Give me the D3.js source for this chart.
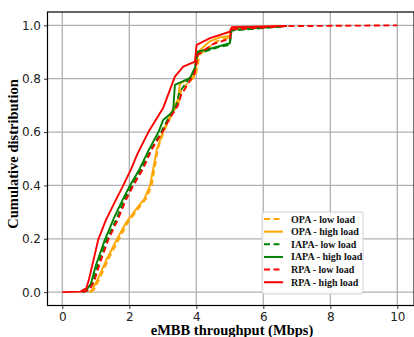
<!DOCTYPE html>
<html>
<head>
<meta charset="utf-8">
<script src="https://cdn.jsdelivr.net/npm/d3@7"></script>
<style>
  body { margin: 0; background: #fff; }
  svg { display: block; }
</style>
</head>
<body>
<div id="chart"></div>
<script>
const xTicks = [0, 2, 4, 6, 8, 10];
const yTicks = [0, 0.2, 0.4, 0.6, 0.8, 1.0];

// OPA - low load
const opaLowX = [0.85, 0.95, 1.15, 1.4, 1.68, 1.95, 2.25, 2.5, 2.67, 2.85, 3.02, 3.25, 3.5, 3.55, 3.98, 4.1, 4.3, 4.6, 5.0, 5.05, 6.7];
const opaLowY = [0, 0.01, 0.06, 0.13, 0.196, 0.26, 0.31, 0.35, 0.4, 0.535, 0.6, 0.66, 0.72, 0.76, 0.81, 0.89, 0.91, 0.94, 0.955, 0.99, 0.998];
// OPA - high load
const opaHighX = [0.8, 0.9, 1.1, 1.35, 1.62, 1.9, 2.2, 2.45, 2.62, 2.82, 3.0, 3.2, 3.45, 3.51, 3.96, 4.05, 4.4, 4.7, 5.0, 5.05, 6.7];
const opaHighY = [0, 0.01, 0.06, 0.13, 0.196, 0.26, 0.31, 0.35, 0.4, 0.535, 0.6, 0.66, 0.72, 0.78, 0.814, 0.9, 0.94, 0.955, 0.96, 0.99, 0.998];
// IAPA- low load
const iapaLowX = [0.6, 0.75, 0.9, 1.05, 1.32, 1.6, 1.85, 2.07, 2.35, 2.65, 2.95, 3.2, 3.4, 3.5, 3.9, 4.06, 4.71, 5.0, 5.05, 6.7];
const iapaLowY = [0, 0.005, 0.03, 0.1, 0.196, 0.27, 0.346, 0.4, 0.46, 0.535, 0.6, 0.66, 0.7, 0.75, 0.82, 0.895, 0.92, 0.927, 0.98, 0.997];
// IAPA - high load
const iapaHighX = [0.6, 0.7, 0.85, 1.0, 1.27, 1.55, 1.8, 2.02, 2.3, 2.59, 2.87, 3.01, 3.31, 3.36, 3.81, 3.96, 4.04, 4.5, 5.0, 5.05, 6.7];
const iapaHighY = [0, 0.005, 0.03, 0.1, 0.196, 0.28, 0.346, 0.4, 0.46, 0.535, 0.6, 0.645, 0.677, 0.777, 0.802, 0.84, 0.901, 0.915, 0.933, 0.983, 0.998];
// RPA - low load
const rpaLowX = [0.6, 0.8, 0.95, 1.1, 1.37, 1.65, 1.9, 2.12, 2.4, 2.67, 2.99, 3.2, 3.45, 3.55, 3.95, 4.05, 4.5, 5.0, 5.05, 6.7, 10];
const rpaLowY = [0, 0.008, 0.04, 0.1, 0.196, 0.27, 0.346, 0.4, 0.46, 0.535, 0.6, 0.65, 0.7, 0.74, 0.82, 0.89, 0.93, 0.95, 0.985, 0.997, 1.0];
// RPA - high load
const rpaHighX = [0, 0.55, 0.72, 0.8, 0.95, 1.07, 1.3, 1.6, 1.82, 2.05, 2.25, 2.57, 3.01, 3.36, 3.61, 3.96, 4.01, 4.41, 5.0, 5.06, 6.7];
const rpaHighY = [0, 0.002, 0.015, 0.05, 0.13, 0.196, 0.27, 0.346, 0.4, 0.46, 0.52, 0.6, 0.69, 0.808, 0.845, 0.864, 0.927, 0.952, 0.976, 0.993, 0.998];

const series = [
  { name: "OPA - low load", xs: opaLowX, ys: opaLowY, color: "#ffa500", dash: "6,3.5" },
  { name: "OPA - high load", xs: opaHighX, ys: opaHighY, color: "#ffa500", dash: null },
  { name: "IAPA- low load", xs: iapaLowX, ys: iapaLowY, color: "#008000", dash: "6,3.5" },
  { name: "IAPA - high load", xs: iapaHighX, ys: iapaHighY, color: "#008000", dash: null },
  { name: "RPA - low load", xs: rpaLowX, ys: rpaLowY, color: "#ff0000", dash: "6,3.5" },
  { name: "RPA - high load", xs: rpaHighX, ys: rpaHighY, color: "#ff0000", dash: null }
];

const width = 414, height = 337;
const mLeft = 47.5, mTop = 12, mBottom = 305.5;

const x = d3.scaleLinear().domain([0, 10]).range([62.3, 397.3]);
const y = d3.scaleLinear().domain([-0.05, 1.05]).range([mBottom, mTop]);
const mRight = x(10.5);

const svg = d3.select("#chart").append("svg")
  .attr("width", width)
  .attr("height", height);

// grid
svg.append("g")
  .selectAll("line")
  .data(xTicks)
  .join("line")
  .attr("x1", d => x(d)).attr("x2", d => x(d))
  .attr("y1", mTop).attr("y2", mBottom)
  .attr("stroke", "#b0b0b0")
  .attr("stroke-width", 1.3);

svg.append("g")
  .selectAll("line")
  .data(yTicks)
  .join("line")
  .attr("x1", mLeft).attr("x2", mRight)
  .attr("y1", d => y(d)).attr("y2", d => y(d))
  .attr("stroke", "#b0b0b0")
  .attr("stroke-width", 1.3);

// curves
svg.append("clipPath").attr("id", "clip")
  .append("rect").attr("x", mLeft).attr("y", mTop)
  .attr("width", mRight - mLeft).attr("height", mBottom - mTop);

const line = d3.line().x(d => x(d[0])).y(d => y(d[1]));

svg.append("g").attr("clip-path", "url(#clip)")
  .selectAll("path")
  .data(series)
  .join("path")
  .attr("d", s => line(s.xs.map((v, i) => [v, s.ys[i]])))
  .attr("fill", "none")
  .attr("stroke", s => s.color)
  .attr("stroke-width", 1.9)
  .attr("stroke-dasharray", s => s.dash)
  .attr("stroke-linejoin", "round");

// axes
const xAxis = svg.append("g")
  .attr("transform", `translate(0,${mBottom})`)
  .call(d3.axisBottom(x).tickValues(xTicks).tickSize(3.5).tickPadding(3).tickFormat(d3.format("d")));
const yAxis = svg.append("g")
  .attr("transform", `translate(${mLeft},0)`)
  .call(d3.axisLeft(y).tickValues(yTicks).tickSize(3.5).tickPadding(3).tickFormat(d3.format(".1f")));

[xAxis, yAxis].forEach(g => {
  g.select(".domain").remove();
  g.selectAll("text")
    .attr("font-family", "DejaVu Sans")
    .attr("font-size", 12)
    .attr("fill", "#222");
  g.selectAll(".tick line").attr("stroke", "#000").attr("stroke-width", 0.8);
});

// spines
svg.append("rect")
  .attr("x", mLeft).attr("y", mTop)
  .attr("width", mRight - mLeft).attr("height", mBottom - mTop)
  .attr("fill", "none")
  .attr("stroke", "#000")
  .attr("stroke-width", 1.2);

// axis labels
svg.append("text")
  .attr("x", 232).attr("y", 335)
  .attr("text-anchor", "middle")
  .attr("font-family", "Liberation Serif")
  .attr("font-weight", "bold")
  .attr("font-size", 14.5)
  .text("eMBB throughput (Mbps)");

svg.append("text")
  .attr("transform", "translate(18,154) rotate(-90)")
  .attr("text-anchor", "middle")
  .attr("font-family", "Liberation Serif")
  .attr("font-weight", "bold")
  .attr("font-size", 14.5)
  .text("Cumulative distribution");

// legend
const lg = svg.append("g");
lg.append("rect")
  .attr("x", 262).attr("y", 212)
  .attr("width", 101).attr("height", 82)
  .attr("rx", 2)
  .attr("fill", "#fff").attr("fill-opacity", 0.85)
  .attr("stroke", "#d0d0d0").attr("stroke-width", 1);

const rows = lg.selectAll("g.row")
  .data(series)
  .join("g")
  .attr("class", "row")
  .attr("transform", (d, i) => `translate(0,${219 + i * 12.65})`);

rows.append("line")
  .attr("x1", 264).attr("x2", 283)
  .attr("stroke", d => d.color)
  .attr("stroke-width", 2)
  .attr("stroke-dasharray", d => d.dash);

rows.append("text")
  .attr("x", 291).attr("y", 3.5)
  .attr("font-family", "Liberation Serif")
  .attr("font-weight", "bold")
  .attr("font-size", 10)
  .attr("fill", "#111")
  .text(d => d.name);
</script>
</body>
</html>
